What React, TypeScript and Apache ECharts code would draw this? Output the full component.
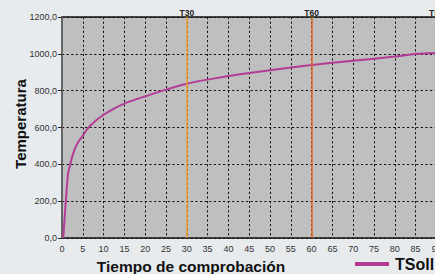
import React, { useEffect, useRef } from "react";
import * as echarts from "echarts";

const times = [0.3, 1.4, 2.2, 3.1, 4, 5, 6, 8, 10, 12.5, 15, 17.9, 20, 24, 30, 36, 42.8, 50, 60, 70, 80, 85.3, 90];
const temps = [0, 340, 421, 485, 525, 555, 590, 635, 669, 703, 730, 754, 769, 799, 838, 864, 889, 911, 939, 963, 985, 1000, 1005];
const seriesName = "TSoll";
const markTimes = [30, 60, 90];
const markLabels = ["T30", "T60", "T90"];
const markColors = ["#f0a028", "#e4641e", "#d83c1e"];
const xTicks = { min: 0, max: 90, interval: 5 };
const yTicks = { min: 0, max: 1200, interval: 200 };
const xTitle = "Tiempo de comprobación";
const yTitle = "Temperatura";

const FONT = "'Liberation Sans', Arial, Helvetica, sans-serif";

export default function App() {
  const ref = useRef<HTMLDivElement>(null);
  useEffect(() => {
    document.body.style.margin = "0";
    const chart = echarts.init(ref.current!, null, { renderer: "svg" });
    const dashed = { color: "#111", width: 1, type: [2.2, 2.4] as any };
    chart.setOption({
      animation: false,
      backgroundColor: "#e7ebee",
      textStyle: { fontFamily: FONT },
      grid: {
        left: 62,
        top: 17,
        width: 374.4,
        height: 221,
        containLabel: false,
        outerBoundsMode: "none",
        show: true,
        backgroundColor: "#bebfbe",
        borderColor: "#111",
        borderWidth: 1.5,
      },
      legend: {
        data: [seriesName],
        left: 355,
        top: 256,
        padding: 0,
        icon: "rect",
        itemWidth: 34,
        itemHeight: 4,
        textStyle: { fontSize: 16, fontWeight: "bold", color: "#111", fontFamily: FONT, padding: [0, 0, 0, 1] },
      },
      xAxis: {
        type: "value",
        min: xTicks.min,
        max: xTicks.max,
        interval: xTicks.interval,
        axisLine: { show: false },
        axisTick: { show: false },
        axisLabel: { fontSize: 9, color: "#333", margin: 6, fontFamily: FONT },
        splitLine: { show: true, lineStyle: dashed },
      },
      yAxis: {
        type: "value",
        min: yTicks.min,
        max: yTicks.max,
        interval: yTicks.interval,
        axisLine: { show: true, lineStyle: { color: "#666", width: 2 } },
        axisTick: { show: true, length: 4, lineStyle: { color: "#222", width: 1 } },
        axisLabel: {
          fontSize: 9,
          color: "#333",
          margin: 5,
          fontFamily: FONT,
          formatter: (v: number) => v.toFixed(1).replace(".", ","),
        },
        splitLine: { show: true, lineStyle: dashed },
      },
      graphic: [
        {
          type: "text",
          x: 191,
          y: 266.5,
          style: {
            text: xTitle,
            font: `bold 15.5px ${FONT}`,
            fill: "#111",
            align: "center",
            verticalAlign: "middle",
          },
        },
        {
          type: "text",
          x: 20,
          y: 124,
          rotation: Math.PI / 2,
          style: {
            text: yTitle,
            font: `bold 15px ${FONT}`,
            fill: "#111",
            align: "center",
            verticalAlign: "middle",
          },
        },
      ],
      series: [
        {
          name: seriesName,
          type: "line",
          data: times.map((t, i) => [t, temps[i]]),
          showSymbol: false,
          smooth: 0.15,
          lineStyle: { color: "#b43c96", width: 2 },
          itemStyle: { color: "#b43c96" },
          markLine: {
            silent: true,
            symbol: "none",
            data: markTimes.map((t, i) => ({
              xAxis: t,
              name: markLabels[i],
              lineStyle: { color: markColors[i], width: 1.5, type: "solid" },
            })),
            label: {
              show: true,
              position: "end",
              formatter: "{b}",
              fontSize: 8.5,
              fontWeight: "bold",
              color: "#222",
              distance: 0,
              fontFamily: FONT,
            },
          },
        },
      ],
    });
    return () => chart.dispose();
  }, []);
  return <div ref={ref} style={{ width: 435, height: 274 }} />;
}
